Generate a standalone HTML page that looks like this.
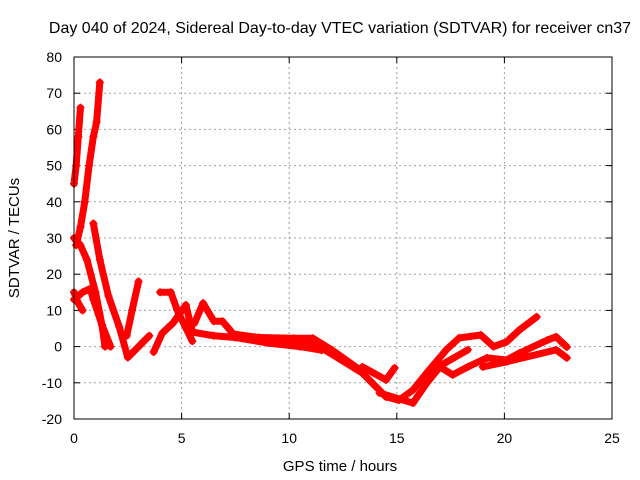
<!DOCTYPE html>
<html><head><meta charset="utf-8"><style>
body{margin:0;background:#fff}
svg{display:block;font-family:"Liberation Sans",sans-serif}
</style></head><body>
<svg id="chart" width="640" height="480" viewBox="0 0 640 480">
<rect width="640" height="480" fill="#fff"/>
<text x="340" y="33" font-size="16" text-anchor="middle">Day 040 of 2024, Sidereal Day-to-day VTEC variation (SDTVAR) for receiver cn37</text>
<text x="340" y="471" font-size="15" text-anchor="middle">GPS time / hours</text>
<text transform="translate(19,238) rotate(-90)" font-size="15" text-anchor="middle">SDTVAR / TECUs</text>
<g id="grid"></g>
<g id="axes"></g>
<g id="series"></g>
<rect x="74" y="57" width="538" height="362" fill="none" stroke="#000" stroke-width="1"/>
</svg>
<script>
const xTicks=[0,5,10,15,20,25];
const yTicks=[-20,-10,0,10,20,30,40,50,60,70,80];
const track1=[[0,45],[0.1,50],[0.2,58],[0.3,66]];
const track2=[[0.1,28],[0.3,33],[0.5,40],[0.7,50],[0.9,58],[1.05,62],[1.2,73]];
const track3=[[0,30],[0.3,28],[0.6,24],[1.0,15],[1.3,6],[1.44,0]];
const track4=[[0.9,34],[1.2,24],[1.6,14],[2.1,5.5],[2.5,-3],[3.0,0],[3.5,3]];
const track5=[[0,13],[0.4,15],[0.75,16],[0.9,13],[1.3,6],[1.7,0]];
const track6=[[0,15],[0.2,12],[0.4,10]];
const track7=[[2.45,3],[2.7,10],[3,18]];
const track8=[[3.7,-1.5],[4.1,3.7],[4.6,6.5],[5.2,11.5],[5.5,4]];
const track9=[[4,15],[4.5,15],[4.8,10],[5.5,1.5]];
const track10=[[5.6,6.5],[6,12],[6.5,7],[6.9,7],[7.4,3.5],[8.6,2.5],[10.2,2.3],[11.1,2.3],[12,-1],[13.3,-6.5]];
const track11=[[5.5,4],[6.5,3],[7.5,2.5],[9,1],[10.5,0],[11.5,-1]];
const track12=[[9.57,1],[11.1,1],[11.9,-1.8],[13.4,-7.3],[14.5,-13.9],[15.1,-14.8],[15.75,-12],[16.5,-6.5],[17.3,-0.9],[17.9,2.4],[18.9,3.2],[19.5,0],[20.1,1.3],[20.7,4.6],[21.5,8.2]];
const track13=[[13.4,-5.6],[14.5,-9.2],[14.9,-5.9]];
const track14=[[14.2,-12.8],[15.75,-15.6],[16.4,-10],[17,-5.6],[17.6,-7.8],[18.3,-5.6],[19.2,-3.1],[20.1,-3.7],[20.7,-1.8],[22,1.8],[22.4,2.7],[22.9,-0.1]];
const track15=[[17.1,-5],[18.3,-0.9]];
const track16=[[19,-5.6],[20.1,-4.2],[22.4,-0.9],[22.9,-3.1]];
const tracks=[track1,track2,track3,track4,track5,track6,track7,track8,track9,track10,track11,track12,track13,track14,track15,track16];
const NS='http://www.w3.org/2000/svg';
const X0=74,X1=612,Y0=419,Y1=57;
function sx(v){return X0+(v-0)/(25-0)*(X1-X0);}
function sy(v){return Y0-(v+20)/(80+20)*(Y0-Y1);}
function mk(tag,attrs,parent){const e=document.createElementNS(NS,tag);for(const k in attrs)e.setAttribute(k,attrs[k]);parent.appendChild(e);return e;}
const grid=document.getElementById('grid'),axes=document.getElementById('axes'),series=document.getElementById('series');
xTicks.forEach(t=>{
  const x=sx(t);
  if(t>0&&t<25){const g=mk('line',{x1:x,y1:Y0,x2:x,y2:Y1,stroke:'#a0a0a0','stroke-dasharray':'2,3'},grid);
  
  }
  mk('line',{x1:x,y1:Y0,x2:x,y2:Y0-6,stroke:'#000'},axes);
  mk('line',{x1:x,y1:Y1,x2:x,y2:Y1+6,stroke:'#000'},axes);
  const l=mk('text',{x:x,y:Y0+24,'font-size':14,'text-anchor':'middle'},axes);
  l.textContent=t;
  
  
});
yTicks.forEach(t=>{
  const y=sy(t);
  if(t>-20&&t<80){const g=mk('line',{x1:X0,y1:y,x2:X1,y2:y,stroke:'#a0a0a0','stroke-dasharray':'2,3'},grid);
  
  }
  mk('line',{x1:X0,y1:y,x2:X0+6,y2:y,stroke:'#000'},axes);
  mk('line',{x1:X1,y1:y,x2:X1-6,y2:y,stroke:'#000'},axes);
  const l=mk('text',{x:X0-12,y:y+5,'font-size':14,'text-anchor':'end'},axes);
  l.textContent=t;
  
  
});
tracks.forEach((tr,i)=>{
  const pts=tr.map(p=>sx(p[0])+','+sy(p[1])).join(' ');
  const pl=mk('polyline',{points:pts,fill:'none',stroke:'#f00','stroke-width':7,'stroke-linejoin':'round','stroke-linecap':'round'},series);
  
  
  tr.forEach(p=>{
    const x=sx(p[0]),y=sy(p[1]);
    const m=mk('path',{d:`M${x-4} ${y}H${x+4}M${x} ${y-4}V${y+4}`,stroke:'#f00','stroke-width':1.5},series);
    
    
  });
});
</script>
</body></html>
